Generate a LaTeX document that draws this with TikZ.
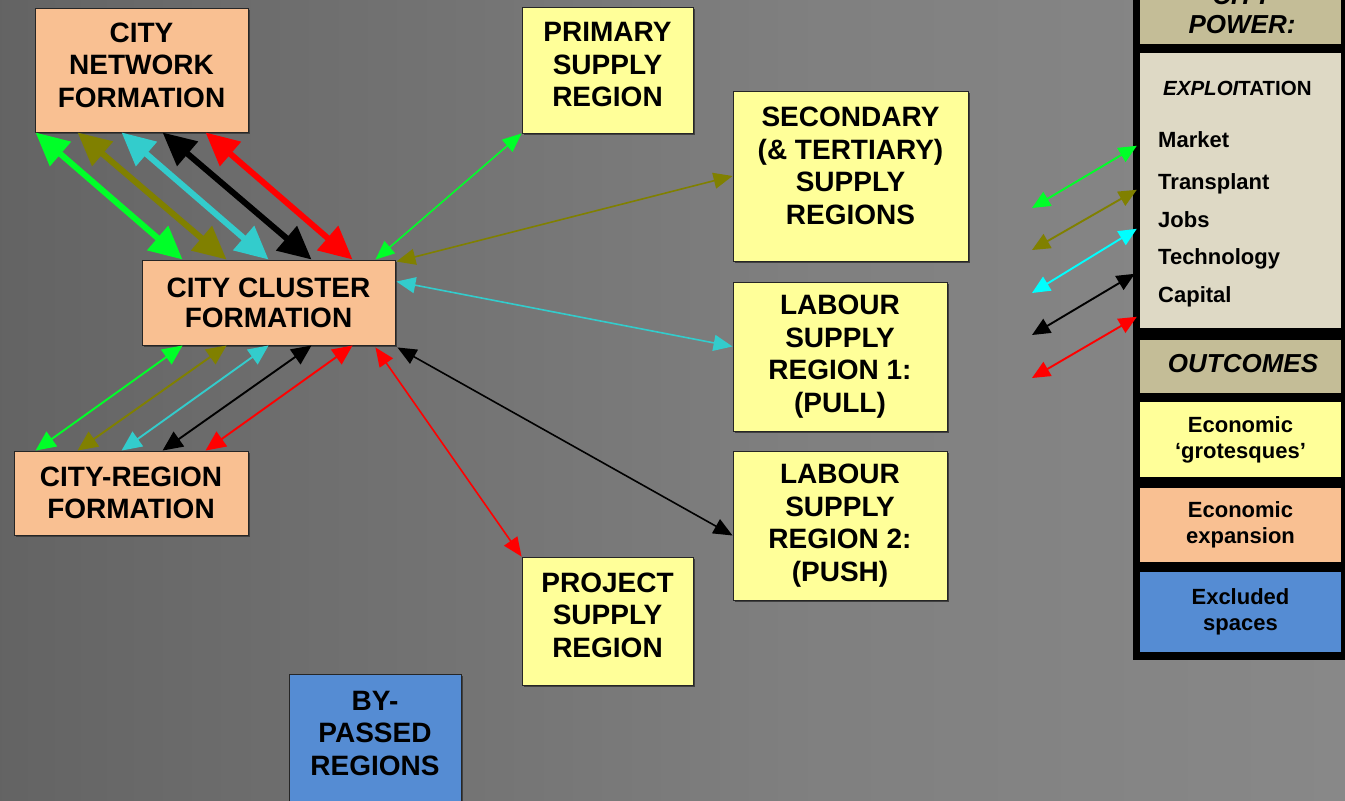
\documentclass[tikz,border=0pt]{standalone}
\usepackage{fontspec}
\setmainfont{Liberation Sans}
\usetikzlibrary{arrows.meta,calc,shadows}

\definecolor{peach}{RGB}{249,192,146}
\definecolor{pale}{RGB}{255,255,153}
\definecolor{bluebox}{RGB}{85,140,211}
\definecolor{tanh}{RGB}{196,189,151}
\definecolor{tanl}{RGB}{222,217,197}
\definecolor{agreen}{RGB}{0,255,40}
\definecolor{aolive}{RGB}{128,128,0}
\definecolor{acyan}{RGB}{51,204,204}
\definecolor{lcyan}{RGB}{0,255,255}
\definecolor{ared}{RGB}{255,0,0}

\pgfdeclarehorizontalshading{bgshade}{100bp}{rgb(0bp)=(0.29,0.29,0.29); rgb(30bp)=(0.41,0.41,0.41); rgb(55bp)=(0.5,0.5,0.5); rgb(85bp)=(0.55,0.55,0.55); rgb(100bp)=(0.57,0.57,0.57)}

\begin{document}
\begin{tikzpicture}[x=1pt,y=-1pt,
  box/.style={draw=black!85, line width=0.9pt, inner sep=0pt,
    drop shadow={shadow xshift=1.5pt, shadow yshift=-1.5pt, fill=black!75, opacity=1}},
  txt/.style={inner sep=0pt, align=center, font=\bfseries\fontsize{28}{32.5}\selectfont},
  lgbox/.style={inner sep=0pt, align=center, font=\bfseries\fontsize{22}{26}\selectfont},
  item/.style={inner sep=0pt, anchor=base west, font=\bfseries\fontsize{22}{26}\selectfont},
  thickarr/.style={line width=6pt, >={Triangle[length=33pt,width=31pt]}, <->},
  thinarr/.style={line width=1.9pt, >={Triangle[length=20pt,width=18pt]}, <->},
  longarr/.style={line width=1.6pt, >={Triangle[length=19pt,width=16pt]}, <->},
  legarr/.style={line width=1.9pt, >={Triangle[length=18pt,width=16pt]}, <->}
]
\useasboundingbox (0,0) rectangle (1345,801);
\clip (0,0) rectangle (1345,801);
\shade[shading=bgshade] (0,0) rectangle (1345,801);

% main boxes
\node[box, fill=peach, minimum width=213pt, minimum height=124pt,
  label={[txt,yshift=5pt]center:{CITY\\NETWORK\\FORMATION}}] (net) at (141.5,70) {};
\node[box, fill=peach, minimum width=253pt, minimum height=85pt,
  label={[txt,font=\bfseries\fontsize{28}{30}\selectfont]center:{CITY CLUSTER\\FORMATION}}] (cl) at (268.5,302.5) {};
\node[box, fill=peach, minimum width=234pt, minimum height=84pt,
  label={[txt]center:{CITY-REGION\\FORMATION}}] (cr) at (131,493) {};
\node[box, fill=pale, minimum width=171pt, minimum height=126pt,
  label={[txt,yshift=5pt]center:{PRIMARY\\SUPPLY\\REGION}}] (prim) at (607.5,70) {};
\node[box, fill=pale, minimum width=235pt, minimum height=170pt,
  label={[txt,yshift=10pt]center:{SECONDARY\\(\& TERTIARY)\\SUPPLY\\REGIONS}}] (sec) at (850.5,176) {};
\node[box, fill=pale, minimum width=214pt, minimum height=149pt,
  label={[txt]center:{LABOUR\\SUPPLY\\REGION 1:\\(PULL)}}] (l1) at (840,356.5) {};
\node[box, fill=pale, minimum width=214pt, minimum height=149pt,
  label={[txt]center:{LABOUR\\SUPPLY\\REGION 2:\\(PUSH)}}] (l2) at (840,525.5) {};
\node[box, fill=pale, minimum width=171pt, minimum height=128pt,
  label={[txt,yshift=6pt]center:{PROJECT\\SUPPLY\\REGION}}] (proj) at (607.5,621) {};
\node[box, fill=bluebox, minimum width=172pt, minimum height=136pt,
  label={[txt,yshift=9pt]center:{BY-\\PASSED\\REGIONS}}] (byp) at (375,742) {};

% thick arrows network <-> cluster
\foreach \col/\a/\b in {agreen/1/41, aolive/43/85, acyan/87/127, black/128/170, ared/171/211}
  \draw[thickarr, draw=\col] ($(net.south west)+(\a,0)$) -- ($(cl.north west)+(\b,0)$);

% thin arrows cluster <-> city-region
\foreach \col/\a/\b in {agreen/41/22, aolive/85/64, acyan/127/108, black/170/149, ared/211/192}
  \draw[thinarr, draw=\col] ($(cl.south west)+(\a,0)$) -- ($(cr.north west)+(\b,0)$);

% long arrows to supply regions
\draw[longarr, draw=agreen] ($(cl.north east)+(-20,0)$) -- (prim.south west);
\draw[longarr, draw=aolive] ($(cl.north east)+(1,2)$) -- (sec.west);
\draw[longarr, draw=acyan] ($(cl.north east)+(1,22)$) -- ($(l1.west)+(0,-10)$);
\draw[longarr, draw=black] ($(cl.south east)+(2,2)$) -- ($(l2.west)+(0,10)$);
\draw[longarr, draw=ared] ($(cl.south east)+(-20,2)$) -- (proj.north west);

% legend panel
\node[fill=black, inner sep=0pt, minimum width=217pt, minimum height=670pt] (panel) at (1241.5,325) {};
\node[fill=tanh, inner sep=0pt, minimum width=201pt, minimum height=54pt] (hdr) at (1240.5,17) {};
\node[inner sep=0pt, anchor=base, font=\bfseries\itshape\fontsize{26}{28}\selectfont] (hdr1) at (1242,4) {CITY};
\node[inner sep=0pt, anchor=base, font=\bfseries\itshape\fontsize{26}{28}\selectfont] (hdr2) at (1242,33) {POWER:};
\node[fill=tanl, inner sep=0pt, minimum width=201pt, minimum height=275pt] (expl) at (1240.5,190.5) {};
\node[inner sep=0pt, anchor=base west, font=\bfseries\fontsize{20.5}{24}\selectfont] (explt) at (1163,95) {{\itshape EXPLOI}TATION};
\node[item] (it1) at (1158,147) {Market};
\node[item] (it2) at (1158,189) {Transplant};
\node[item] (it3) at (1158,227) {Jobs};
\node[item] (it4) at (1158,264) {Technology};
\node[item] (it5) at (1158,302) {Capital};
\node[fill=tanh, inner sep=0pt, minimum width=201pt, minimum height=53pt] (outc) at (1240.5,366.5) {};
\node[inner sep=0pt, anchor=base, font=\bfseries\itshape\fontsize{26}{28}\selectfont] (outct) at (1243,372) {OUTCOMES};
\node[lgbox, fill=pale, minimum width=201pt, minimum height=75pt] (lgy) at (1240.5,439.5) {Economic\\‘grotesques’};
\node[lgbox, fill=peach, minimum width=201pt, minimum height=74pt] (lgo) at (1240.5,525) {Economic\\expansion};
\node[lgbox, fill=bluebox, minimum width=201pt, minimum height=80pt] (lgb) at (1240.5,612) {Excluded\\spaces};

% legend arrows
\coordinate (g1) at (1032,208);
\coordinate (g2) at (1032,250);
\coordinate (g3) at (1032,293);
\coordinate (g4) at (1032,335);
\coordinate (g5) at (1032,378);
\draw[legarr, draw=agreen] (g1) -- ($(expl.north west)+(-3,93)$);
\draw[legarr, draw=aolive] (g2) -- ($(expl.north west)+(-3,137)$);
\draw[legarr, draw=lcyan] (g3) -- ($(expl.north west)+(-3,176)$);
\draw[legarr, draw=black] (g4) -- ($(expl.north west)+(-5,221)$);
\draw[legarr, draw=ared] (g5) -- ($(expl.north west)+(-3,264)$);
\end{tikzpicture}
\end{document}
